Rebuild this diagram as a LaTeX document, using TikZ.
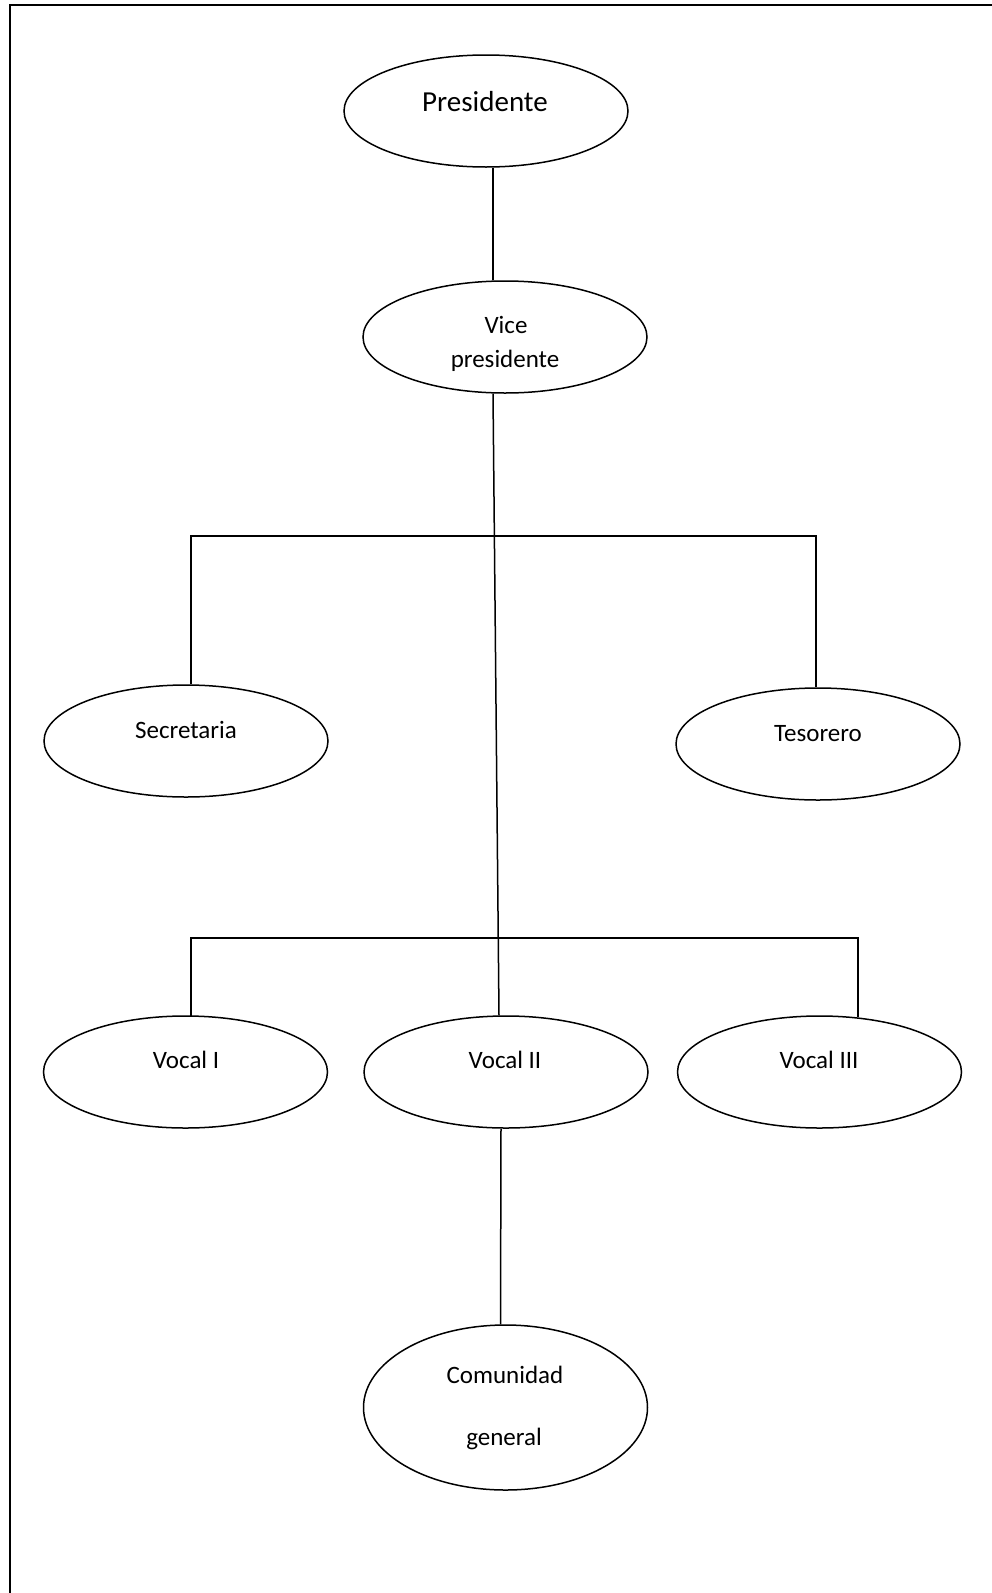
\documentclass[tikz,border=0pt]{standalone}
\usepackage{fontspec}
\setmainfont{Carlito}
\usetikzlibrary{shapes.geometric,calc}
\tikzset{
  ell/.style={draw, ellipse, line width=1.5pt, minimum width=284pt, minimum height=112pt, inner sep=0pt},
  txt/.style={anchor=base, inner sep=0pt, font=\fontsize{25}{30}\selectfont},
  bigtxt/.style={anchor=base, inner sep=0pt, font=\fontsize{29}{34}\selectfont},
  conn/.style={line width=1.5pt},
  frame/.style={line width=2pt}
}
\begin{document}
\begin{tikzpicture}[x=1pt,y=-1pt]
\useasboundingbox (0,0) rectangle (992,1593);
% frame
\coordinate (fbl) at (10,1593);
\coordinate (ftl) at (10,5);
\coordinate (ftr) at (992,5);
\draw[frame] (fbl) -- (ftl) -- (ftr);
% ellipses
\node[ell] (pres) at (486,111) {};
\node[ell] (vice) at (505,337) {};
\node[ell] (sec) at (186,741) {};
\node[ell] (tes) at (818,744) {};
\node[ell] (v1) at (185.5,1072) {};
\node[ell] (v2) at (506,1072) {};
\node[ell] (v3) at (819.5,1072) {};
\node[ell, minimum height=165pt] (com) at (505.5,1407.5) {};
% texts
\node[bigtxt] (tpres) at (485,111) {Presidente};
\node[txt] (tvice1) at (506,333) {Vice};
\node[txt] (tvice2) at (505,367) {presidente};
\node[txt] (tsec) at (186,738) {Secretaria};
\node[txt] (ttes) at (818,741) {Tesorero};
\node[txt] (tv1) at (186,1068) {Vocal I};
\node[txt] (tv2) at (505,1068) {Vocal II};
\node[txt] (tv3) at (819,1068) {Vocal III};
\node[txt] (tcom1) at (505,1383) {Comunidad};
\node[txt] (tcom2) at (504,1445) {general};
% connectors
\draw[conn] ($(pres.south)+(7,0)$) -- ($(vice.north)+(-12,0)$);
\draw[conn] ($(vice.south)+(-12,0)$) -- ($(v2.north)+(-7,0)$);
\draw[conn] ($(v2.south)+(-5,0)$) -- ($(com.north)+(-5,0)$);
\coordinate (b1l) at (191,536);
\coordinate (b1r) at (816,536);
\draw[conn] (sec.north -| b1l) -- (b1l) -- (b1r) -- (tes.north -| b1r);
\coordinate (b2l) at (191,938);
\coordinate (b2r) at (858,938);
\draw[conn] ($(v1.north -| b2l)+(0,1)$) -- (b2l) -- (b2r) -- ($(v3.north -| b2r)+(0,2)$);
\end{tikzpicture}
\end{document}
